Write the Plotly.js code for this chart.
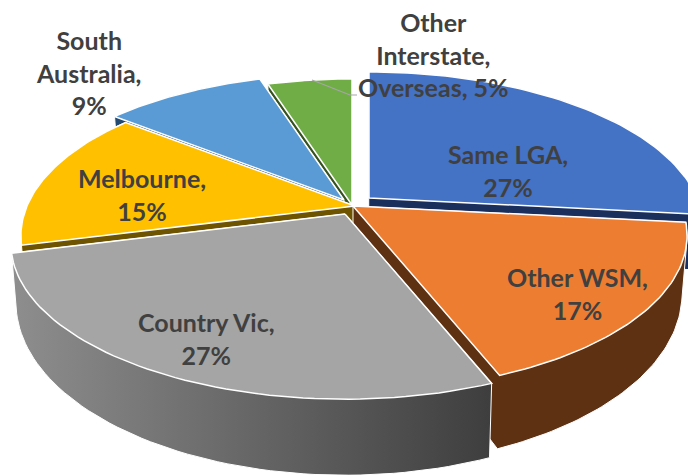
<!DOCTYPE html>
<html><head><meta charset="utf-8">
<script src="https://cdn.plot.ly/plotly-3.0.1.min.js"></script>
<style>html,body{margin:0;padding:0;background:#fff}#c{width:688px;height:475px}</style>
</head><body><div id="c"></div>
<script>
// Data
var categories = ["Same LGA","Other WSM","Country Vic","Melbourne","South Australia","Other Interstate, Overseas"];
var values = [26.7,17.3,27,14.7,9.4,4.9];
var shownPercent = [27,17,27,15,9,5];
var labelLines = ["Same LGA,<br>27%","Other WSM,<br>17%","Country Vic,<br>27%","Melbourne,<br>15%","South<br>Australia,<br>9%","Other<br>Interstate,<br>Overseas, 5%"];

// Styles and placement
var topColors = ["#4472c4","#ed7d31","#a5a5a5","#ffc000","#5b9bd5","#70ad47"];
var wallColors = ["#1b2f5c","#5e3112","#5a5a5a","#6e5300","#234a70","#35521f"];
var tipX = [369,353,345,355,344,352];
var tipY = [198,206,214,206,200,205];
var labelX = [508,577,206,142,88,433];
var labelY = [170,293,338,194,72,54];
var paintOrder = [5,4,3,0,1,2];
var RX = 328, RY = 150, P = 0.19;

function project(deg, i){
  var a = deg*Math.PI/180, X = Math.sin(a), Y = -Math.cos(a), s = 1/(1-P*Y);
  return [tipX[i]+RX*X*s, tipY[i]+RY*Y*s];
}
function lower(p){ return [350+(p[0]-350)*0.985, p[1]+55+(p[1]-208)*0.11]; }
function outline(i, start, sweep){
  var pts = [[tipX[i],tipY[i]]], n = 60;
  for(var k=0;k<=n;k++) pts.push(project(start+sweep*k/n,i));
  return pts;
}
function hull(pts){
  var s = pts.slice().sort(function(a,b){return a[0]-b[0]||a[1]-b[1];});
  function cross(o,a,b){return (a[0]-o[0])*(b[1]-o[1])-(a[1]-o[1])*(b[0]-o[0]);}
  var lo=[],up=[];
  s.forEach(function(p){while(lo.length>1&&cross(lo[lo.length-2],lo[lo.length-1],p)<=0)lo.pop();lo.push(p);});
  s.slice().reverse().forEach(function(p){while(up.length>1&&cross(up[up.length-2],up[up.length-1],p)<=0)up.pop();up.push(p);});
  return lo.slice(0,-1).concat(up.slice(0,-1));
}
function closed(pts){return {x:pts.map(function(p){return p[0];}).concat(pts[0][0]),y:pts.map(function(p){return p[1];}).concat(pts[0][1])};}

var total = values.reduce(function(a,b){return a+b;},0);
var starts = [], acc = 0;
values.forEach(function(v){starts.push(acc/total*360);acc+=v;});

var traces = [];
paintOrder.forEach(function(i){
  var top = outline(i,starts[i],values[i]/total*360);
  var wall = closed(hull(top.concat(top.map(lower))));
  var w = {x:wall.x,y:wall.y,mode:"lines",fill:"toself",fillcolor:wallColors[i],line:{color:"#ffffff",width:1},hoverinfo:"skip",showlegend:false};
  if(categories[i]==="Country Vic"){
    w.fillgradient = {type:"horizontal",colorscale:[[0,"#8e8e8e"],[1,"#3e3e3e"]]};
    delete w.fillcolor;
  }
  traces.push(w);
  var t = closed(top);
  traces.push({x:t.x,y:t.y,mode:"lines",fill:"toself",fillcolor:topColors[i],line:{color:"#ffffff",width:1.5},name:categories[i],hoverinfo:"name",showlegend:false});
});
// leader line of the last label
traces.push({x:[312,350,357],y:[80,95,95],mode:"lines",line:{color:"#a6a6a6",width:1.2},hoverinfo:"skip",showlegend:false});

var annotations = labelLines.map(function(t,i){
  return {x:labelX[i],y:labelY[i],xref:"x",yref:"y",text:"<b>"+t+"</b>",showarrow:false,align:"center",
    xanchor:"center",yanchor:"middle",font:{family:"Lato, 'Open Sans', sans-serif",size:25,color:"#404040"}};
});

Plotly.newPlot("c",traces,{
  width:688,height:475,margin:{l:0,r:0,t:0,b:0},paper_bgcolor:"#fff",plot_bgcolor:"#fff",showlegend:false,
  xaxis:{range:[0,688],visible:false,fixedrange:true},
  yaxis:{range:[475,0],visible:false,fixedrange:true},
  annotations:annotations
},{displayModeBar:false,staticPlot:true});
</script></body></html>
